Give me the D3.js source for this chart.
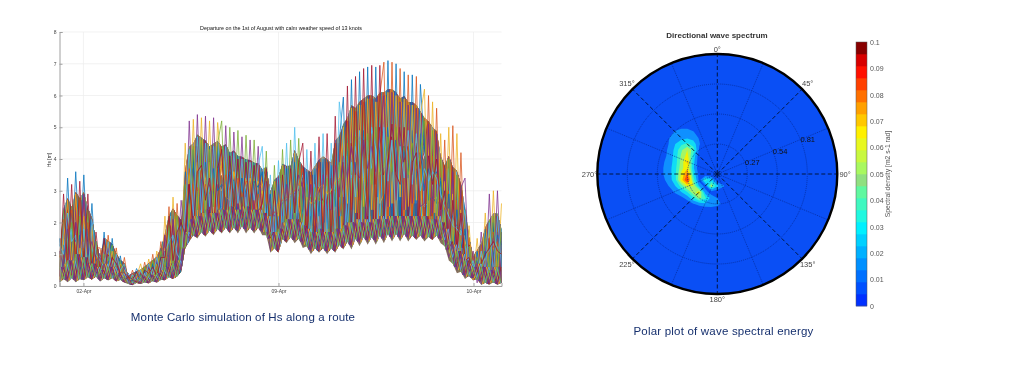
<!DOCTYPE html>
<html>
<head>
<meta charset="utf-8">
<script src="https://cdn.jsdelivr.net/npm/d3@7"></script>
<style>
  body { margin: 0; background: #fff; }
  svg { display: block; filter: blur(0.45px); }
  text { font-family: "Liberation Sans", Arial, sans-serif; }
</style>
</head>
<body>
<svg id="chart" width="1024" height="373"></svg>
<script>
// ---- left chart: Hs runs, one value per sample along the route
var hsRunBlue = [
  1.5,0.4,3.4,0.9,3.6,1.1,3.5,0.8,2.6,0.5,
  0.3,1.7,0.3,1.5,0.2,0.95,0.2,0.4,0.1,0.55,
  0.3,0.45,0.2,0.7,0.7,1.2,0.4,1.0,2.4,0.5,
  1.5,3.6,2.6,3.9,1.8,3.3,3.9,1.8,3.7,3.0,
  3.2,2.1,3.6,3.3,2.0,3.4,2.9,2.1,3.3,3.1,
  3.6,2.3,2.9,1.3,3.2,1.8,3.7,2.1,3.9,1.9,
  2.4,3.6,1.9,3.7,2.2,4.0,1.8,3.8,2.5,4.6,
  5.95,1.6,6.5,1.7,6.75,1.8,6.9,1.6,6.9,1.8,
  1.7,7.1,1.8,7.0,1.9,6.75,1.8,6.65,1.8,6.35,
  4.4,2.7,2.8,2.6,3.3,1.4,2.9,0.9,2.4,1.2,
  1.8,0.7,0.6,1.1,0.2,1.8,0.3,1.0,1.6,1.3
];
var hsRunOrange = [
  0.9,2.1,0.5,2.4,1.0,2.7,0.6,2.0,0.5,1.2,
  1.2,0.3,1.6,0.4,1.2,0.2,0.9,0.1,0.5,0.1,
  0.1,0.75,0.2,1.0,0.2,1.4,0.3,2.5,0.3,2.6,
  0.6,2.9,3.7,3.0,3.1,1.9,3.2,2.9,3.2,2.4,
  1.9,3.5,3.0,2.0,3.4,2.8,3.3,3.2,2.0,2.9,
  2.1,2.9,2.2,2.3,2.6,2.7,2.8,2.9,3.0,3.2,
  3.7,1.7,3.5,1.6,3.9,2.0,3.9,1.9,4.5,2.2,
  3.0,5.2,2.4,5.5,2.7,5.8,2.5,5.9,2.8,6.0,
  7.05,1.7,7.05,1.8,6.85,1.7,6.65,1.9,6.6,1.7,
  1.7,6.0,1.7,5.6,1.6,4.6,1.0,5.05,0.6,4.2,
  0.6,1.5,0.9,0.2,1.3,0.3,1.5,1.7,0.3,0.4
];
var hsRunYellow = [
  0.2,1.5,2.7,0.7,2.9,0.9,2.2,0.4,1.9,0.3,
  0.6,1.3,0.5,1.1,0.3,0.7,0.5,0.2,0.2,0.3,
  0.7,0.15,0.85,0.2,1.1,0.2,2.2,0.3,2.8,0.4,
  0.6,4.5,1.7,5.25,2.0,5.3,2.2,5.2,2.0,5.15,
  3.7,2.8,2.7,3.6,2.9,2.1,2.0,3.4,2.8,2.1,
  3.0,1.7,1.3,3.3,2.2,3.8,1.6,3.2,4.2,2.5,
  1.9,2.8,2.6,2.7,3.1,3.2,2.9,3.0,3.3,3.4,
  5.0,2.6,5.6,2.3,5.7,2.5,5.9,2.4,5.8,2.6,
  2.9,6.1,2.6,6.0,2.8,5.9,2.5,5.7,2.7,5.4,
  6.2,1.7,5.8,1.6,4.8,1.3,5.0,0.9,4.8,0.5,
  0.4,1.9,0.2,1.5,0.1,2.3,0.1,3.0,0.2,2.6
];
var hsRunPurple = [
  1.1,0.6,1.8,0.3,2.0,1.2,2.9,1.0,1.4,0.8,
  0.9,0.5,1.2,0.6,0.9,0.3,0.6,0.3,0.4,0.2,
  0.4,0.3,0.6,0.4,0.8,0.5,1.6,0.6,2.1,0.7,
  2.7,1.4,5.2,1.9,5.4,2.2,5.35,1.9,5.3,2.1,
  2.0,5.05,1.9,4.85,2.2,4.7,1.9,4.6,2.1,4.4,
  1.9,3.3,2.5,1.7,3.4,2.2,3.2,1.7,2.8,3.5,
  3.1,2.2,3.2,2.1,1.5,3.5,2.4,2.4,3.8,2.8,
  4.1,3.4,4.4,3.6,3.4,4.6,3.7,4.4,3.6,4.8,
  6.0,2.5,6.1,2.7,5.8,2.4,5.7,2.6,5.6,2.5,
  2.6,5.1,2.3,4.8,2.0,3.7,1.3,3.6,0.8,3.1,
  3.4,0.3,1.1,0.1,1.7,0.1,2.9,0.1,3.0,0.2
];
var hsRunGreen = [
  0.5,2.4,1.0,2.0,0.4,2.2,1.4,2.4,0.9,1.4,
  0.3,1.0,0.8,1.3,0.5,0.8,0.25,0.15,0.3,0.4,
  0.2,0.6,0.3,0.8,0.4,1.1,0.6,1.9,0.5,2.2,
  1.2,3.2,2.1,4.4,2.4,4.6,2.0,4.3,2.5,4.5,
  5.2,1.9,5.0,2.2,4.9,1.9,4.75,2.0,4.6,1.9,
  1.8,4.25,1.2,3.8,1.3,4.3,1.5,4.6,1.7,4.65,
  1.4,3.2,1.5,3.1,2.7,2.6,3.4,1.5,2.9,3.9,
  2.0,4.5,3.5,4.7,4.6,2.0,4.8,3.2,5.0,3.5,
  3.8,4.7,3.6,5.0,3.9,4.4,3.5,4.5,3.7,4.2,
  5.2,2.2,4.9,2.1,4.0,1.6,4.0,1.1,3.5,0.7,
  1.3,1.2,0.5,0.9,0.4,1.5,0.5,2.2,0.6,1.7
];
var hsRunCyan = [
  1.3,1.0,2.3,1.4,1.6,0.5,1.8,0.3,2.1,1.0,
  0.8,0.6,1.4,0.3,1.0,0.5,0.7,0.1,0.35,0.15,
  0.5,0.2,0.7,0.3,0.9,0.3,1.1,1.4,1.6,1.0,
  0.8,2.4,4.3,2.2,4.7,2.3,4.5,2.5,4.4,2.1,
  2.5,4.4,2.3,4.2,2.6,4.0,2.4,3.9,2.7,3.8,
  4.4,1.8,3.5,1.2,3.95,1.6,4.5,1.6,5.0,1.7,
  1.5,4.3,1.2,4.5,1.2,4.8,1.3,4.5,1.5,5.8,
  4.6,1.8,3.9,2.8,4.9,3.3,2.2,5.0,4.3,2.0,
  5.0,3.3,4.6,2.0,4.4,3.4,4.9,3.2,4.8,3.0,
  3.7,3.3,3.6,3.4,2.9,2.5,2.2,1.9,1.8,1.6,
  2.4,0.5,0.8,0.3,1.1,0.5,2.0,0.4,2.2,0.6
];
var hsRunMaroon = [
  0.3,2.9,0.6,3.2,0.5,3.3,0.7,2.9,0.4,1.7,
  0.5,1.5,0.4,0.9,0.7,0.4,0.4,0.3,0.2,0.45,
  0.15,0.5,0.4,0.6,0.3,0.9,0.9,2.2,0.8,1.7,
  2.0,1.6,3.2,1.8,3.6,3.8,2.7,3.4,1.9,3.7,
  4.3,2.2,4.1,2.5,4.0,2.3,3.9,2.4,3.8,2.3,
  2.6,3.7,1.4,3.0,1.6,3.5,2.0,3.7,2.3,3.9,
  4.5,1.3,4.25,1.2,4.7,1.3,4.8,1.2,5.35,1.5,
  1.5,6.3,1.6,6.6,1.7,6.85,1.7,6.95,1.8,6.95,
  2.1,3.9,5.1,3.5,3.2,5.0,2.0,3.9,4.2,2.0,
  1.9,4.1,3.2,4.0,2.4,3.0,1.1,2.7,1.2,2.3,
  0.8,0.9,0.35,0.6,0.7,1.0,1.2,1.4,1.1,1.0
];
// the calmest runs, these fill the lower part of the band
var hsRunCalmA = [
  .12,.7,.15,.8,.15,.9,.2,.7,.25,.6,
  .15,.7,.2,.6,.15,.4,.12,.12,.05,.2,
  .08,.3,.1,.35,.12,.5,.2,.7,.25,.8,
  .5,1.7,1.5,2.2,1.6,2.3,1.65,2.3,1.7,2.4,
  1.75,2.4,1.75,2.4,1.75,2.5,1.75,2.4,1.75,2.4,
  1.7,2.2,1.1,1.7,1.15,2.0,1.45,2.1,1.45,2.0,
  1.3,1.8,1.1,1.7,1.15,1.7,1.1,1.7,1.15,1.8,
  1.25,2.0,1.25,2.1,1.35,2.1,1.4,2.1,1.4,2.2,
  1.45,2.2,1.5,2.2,1.5,2.2,1.5,2.2,1.55,2.2,
  1.5,2.1,1.55,2.2,1.45,1.8,.9,1.3,.5,1.0,
  .3,.7,.25,.7,.05,.6,.1,.6,.05,.5
];
var hsRunCalmB = [
  .6,.2,.8,.2,1.0,.2,.9,.18,.7,.2,
  .5,.2,.6,.15,.4,.12,.3,.03,.15,.08,
  .3,.08,.35,.12,.4,.15,.6,.22,.7,.25,
  1.2,1.2,2.1,1.55,2.2,1.6,2.4,1.65,2.3,1.7,
  2.4,1.7,2.5,1.75,2.4,1.8,2.5,1.75,2.4,1.75,
  2.3,1.5,1.7,1.05,1.8,1.4,2.1,1.45,2.1,1.4,
  1.9,1.15,1.7,1.1,1.8,1.1,1.7,1.1,1.8,1.2,
  1.9,1.3,2.0,1.4,2.0,1.45,2.0,1.45,2.1,1.5,
  2.1,1.55,2.2,1.55,2.2,1.55,2.2,1.5,2.2,1.5,
  2.2,1.45,2.1,1.5,2.0,1.15,1.4,.6,1.1,.35,
  .8,.25,.6,.15,.6,.05,.5,.05,.6,.05
];
// toothed lower edge of the band
var hsLowerEdge = [
  .1,.22,.12,.25,.12,.22,.18,.28,.2,.3,
  .14,.25,.17,.25,.14,.2,.1,.06,.02,.1,
  .06,.12,.08,.16,.1,.2,.18,.28,.22,.3,
  .45,1.2,1.4,1.6,1.5,1.7,1.55,1.75,1.6,1.8,
  1.65,1.85,1.65,1.85,1.65,1.9,1.65,1.85,1.65,1.85,
  1.6,1.6,1.05,1.2,1.05,1.5,1.35,1.55,1.35,1.5,
  1.2,1.25,1.0,1.2,1.05,1.2,1.0,1.2,1.05,1.3,
  1.15,1.4,1.15,1.5,1.25,1.55,1.3,1.55,1.3,1.6,
  1.35,1.65,1.4,1.65,1.4,1.65,1.4,1.6,1.45,1.6,
  1.4,1.55,1.45,1.6,1.35,1.25,.8,.7,.4,.45,
  .22,.32,.17,.22,.04,.1,.04,.12,.04,.1
];
var hsRuns = [hsRunBlue, hsRunOrange, hsRunYellow, hsRunPurple, hsRunGreen, hsRunCyan, hsRunMaroon];
var hsCalmRuns = [hsRunCalmA, hsRunCalmB];
var hsRunColors = ["#0072BD", "#D95319", "#EDB120", "#7E2F8E", "#77AC30", "#4DBEEE", "#A2142F"];

var hsDateSamples = [5.9, 54, 102.1];
var hsDateLabels = ["02-Apr", "09-Apr", "10-Apr"];
var hsTicks = [0, 1, 2, 3, 4, 5, 6, 7, 8];

// redraw passes inside the band: sample shift and colour shift of each pass
var passOffsets = [0.5, 0.25, 0.75, 0.125, 0.625, 0.375, 0.875, 0];
var passColorShifts = [2, 4, 5, 1, 3, 6, 2, 0];

// ---- right chart: spectral density x 1000 on an east/north grid
var specEastStart = -0.594, specNorthStart = 0.486, specStep = 0.054;
var specRows = [
  [0,0,0,0,0,0,0,0,0,0,0,0,0,0,0],
  [0,0,0,0,3,6,6,2,0,0,0,0,0,0,0],
  [0,0,0,4,12,15,15,11,3,0,0,0,0,0,0],
  [0,0,0,10,15,17,19,16,9,0,0,0,0,0,0],
  [0,0,3,11,20,28,32,26,11,2,0,0,0,0,0],
  [0,0,5,13,23,38,50,35,8,0,0,0,0,0,0],
  [0,0,6,14,24,42,54,27,3,0,0,0,0,0,0],
  [0,1,9,15,25,44,62,24,2,0,0,0,0,0,0],
  [0,2,10,16,27,46,58,22,2,0,0,0,0,0,0],
  [0,2,10,16,28,52,72,28,5,0,0,0,0,0,0],
  [0,1,8,15,27,55,82,36,6,34,24,3,0,0,0],
  [0,0,3,11,20,34,52,50,18,6,46,22,12,0,0],
  [0,0,0,4,12,20,30,47,54,14,5,3,1,0,0],
  [0,0,0,0,2,7,14,28,44,32,16,10,2,0,0],
  [0,0,0,0,0,1,3,9,14,18,20,15,6,0,0],
  [0,0,0,0,0,0,0,0,0,0,0,0,0,0,0]
];
var specLevels = [10, 20, 30, 40, 50, 60, 70, 80];
var specLevelColors = ["#0f90ff", "#10dcf5", "#45f5c0", "#a5f565", "#f5f000", "#ffa500", "#ff5000", "#f01000"];
var radialTicks = [0.27, 0.54, 0.81, 1.08];
var compassMajor = [0, 45, 90, 135, 180, 225, 270, 315];
var compassMinor = [22.5, 67.5, 112.5, 157.5, 202.5, 247.5, 292.5, 337.5];

var barColors = ["#0030ff","#0050ff","#0070ff","#0090ff","#00b0ff","#00d0ff","#00f0ff","#20f8e0","#40f8c0","#60f8a0",
                 "#90e080","#a8f860","#c8f840","#e8f820","#fff000","#ffc800","#ffa000","#ff7000","#ff4000","#ff1000"];
var barTicks = [0, 0.01, 0.02, 0.03, 0.04, 0.05, 0.06, 0.07, 0.08, 0.09, 0.1];
var barTopColors = ["#d80000", "#880000"];

var svg = d3.select("#chart");

drawMonteCarlo();
drawPolar();
drawColorbar();

function drawMonteCarlo(){
    var xScale = d3.scaleLinear().domain([0, 109]).range([59.5, 501.5]),
        yScale = d3.scaleLinear().domain([0, 8]).range([286, 32]),
        g = svg.append("g");

    // grid
    g.selectAll(".gy").data(hsTicks).enter().append("line")
        .attr("x1", 59.5).attr("x2", 501.5)
        .attr("y1", d => yScale(d)).attr("y2", d => yScale(d))
        .attr("stroke", "#ececec").attr("stroke-width", 0.7);
    g.selectAll(".gx").data(hsDateSamples).enter().append("line")
        .attr("x1", d => xScale(d)).attr("x2", d => xScale(d))
        .attr("y1", 32).attr("y2", 286)
        .attr("stroke", "#ececec").attr("stroke-width", 0.7);

    // dense part of the band comes from the runs themselves, so its top stays jagged
    function bandTo(level){
        return d3.area()
            .x((d, i) => xScale(i))
            .y0((d, i) => yScale(hsLowerEdge[i]))
            .y1((d, i) => yScale(d3.quantile(hsRuns.map(r => r[i]).sort(d3.ascending), level)))(hsLowerEdge);
    }

    svg.append("clipPath").attr("id", "bandClip").append("path").attr("d", bandTo(0.85));

    function drawRuns(parent, runs, offset, colorShift, width, opacity){
        var lineAt = d3.line().x((d, i) => xScale(Math.min(i + offset, 109))).y(d => yScale(d));
        parent.selectAll(null).data(runs).enter().append("path")
            .attr("d", d => lineAt(d))
            .attr("fill", "none")
            .attr("stroke", (d, i) => hsRunColors[(i + colorShift) % hsRunColors.length])
            .attr("stroke-width", width)
            .attr("stroke-opacity", opacity)
            .attr("stroke-linejoin", "round");
    }

    // spikes over the band
    drawRuns(g, hsRuns, 0, 0, 0.9, 0.85);

    g.append("path").attr("d", bandTo(0.6)).attr("fill", "#86705e");
    var inner = g.append("g").attr("clip-path", "url(#bandClip)");
    passOffsets.forEach((o, p) => drawRuns(inner, hsRuns, o, passColorShifts[p], 0.8, 1));
    passOffsets.forEach((o, p) => drawRuns(inner, hsCalmRuns, o, passColorShifts[p] + 3, 0.8, 1));

    var xAxis = g.append("g").attr("transform", "translate(0,286)")
        .call(d3.axisBottom(xScale).tickValues(hsDateSamples)
            .tickFormat((d, i) => hsDateLabels[i]).tickSize(-3).tickPadding(3));
    var yAxis = g.append("g").attr("transform", "translate(59.5,0)")
        .call(d3.axisLeft(yScale).tickValues(hsTicks).tickSize(-3).tickPadding(3));

    [xAxis, yAxis].forEach(a => {
        a.selectAll("path").attr("stroke", "#a0a0a0").attr("stroke-width", 1);
        a.selectAll("line").attr("stroke", "#a0a0a0");
        a.selectAll("text").attr("fill", "#444").style("font-size", "5px");
    });

    g.append("text")
        .attr("transform", "translate(51,160) rotate(-90)")
        .attr("text-anchor", "middle")
        .attr("fill", "#333")
        .style("font-size", "5px")
        .text("Hs [m]");
    g.append("text")
        .attr("x", 281).attr("y", 30)
        .attr("text-anchor", "middle")
        .attr("fill", "#111")
        .style("font-size", "5.4px")
        .text("Departure on the 1st of August with calm weather speed of 13 knots");

    svg.append("text")
        .attr("x", 243).attr("y", 321)
        .attr("text-anchor", "middle")
        .attr("fill", "#16306e")
        .style("font-size", "11.5px")
        .style("letter-spacing", "0.15px")
        .text("Monte Carlo simulation of Hs along a route");
}

function drawPolar(){
    var cx = 717.3, cy = 174,
        rScale = d3.scaleLinear().domain([0, 1.08]).range([0, 120]),
        g = svg.append("g");

    g.append("circle").attr("cx", cx).attr("cy", cy).attr("r", rScale(1.08))
        .attr("fill", "#0a4ff5");

    // contour grid cell (gx,gy) -> east/north -> pixels
    var flat = d3.merge(specRows);
    var contours = d3.contours().size([specRows[0].length, specRows.length]).thresholds(specLevels)(flat);
    var project = d3.geoTransform({
        point: function(gx, gy){
            var east = specEastStart + (gx - 0.5) * specStep,
                north = specNorthStart - (gy - 0.5) * specStep;
            this.stream.point(cx + rScale(east), cy - rScale(north));
        }
    });
    g.selectAll(".level").data(contours).enter().append("path")
        .attr("class", "level")
        .attr("d", d3.geoPath(project))
        .attr("fill", (d, i) => specLevelColors[i]);

    function bearing(deg, r){
        var a = deg * Math.PI / 180;
        return [cx + rScale(r) * Math.sin(a), cy - rScale(r) * Math.cos(a)];
    }

    g.selectAll(".ring").data(radialTicks.slice(0, 3)).enter().append("circle")
        .attr("cx", cx).attr("cy", cy).attr("r", d => rScale(d))
        .attr("fill", "none").attr("stroke", "#04268f")
        .attr("stroke-width", 0.7).attr("stroke-dasharray", "1,1");
    g.selectAll(".spokeMinor").data(compassMinor).enter().append("line")
        .attr("x1", cx).attr("y1", cy)
        .attr("x2", d => bearing(d, 1.08)[0]).attr("y2", d => bearing(d, 1.08)[1])
        .attr("stroke", "#04268f").attr("stroke-width", 0.7).attr("stroke-dasharray", "1,1");
    g.selectAll(".spokeMajor").data(compassMajor).enter().append("line")
        .attr("x1", cx).attr("y1", cy)
        .attr("x2", d => bearing(d, 1.08)[0]).attr("y2", d => bearing(d, 1.08)[1])
        .attr("stroke", "#00102e").attr("stroke-width", 0.9).attr("stroke-dasharray", "4,2.5");

    g.append("circle").attr("cx", cx).attr("cy", cy).attr("r", rScale(1.08))
        .attr("fill", "none").attr("stroke", "#000").attr("stroke-width", 2.4);

    // direction labels sit just outside the rim
    g.selectAll(".dir").data(compassMajor).enter().append("text")
        .attr("x", d => bearing(d, 1.15)[0])
        .attr("y", d => bearing(d, d % 180 ? 1.15 : 1.125)[1] + 2.5)
        .attr("text-anchor", "middle")
        .attr("fill", "#444")
        .style("font-size", "7.5px")
        .text(d => d + "°");

    g.selectAll(".rad").data(radialTicks.slice(0, 3)).enter().append("text")
        .attr("x", d => bearing(67.5, d)[0])
        .attr("y", d => bearing(67.5, d)[1] + 2.5)
        .attr("fill", "#111")
        .style("font-size", "7.5px")
        .text(d => d);

    g.append("text")
        .attr("x", 717).attr("y", 38)
        .attr("text-anchor", "middle")
        .attr("fill", "#333")
        .style("font-size", "8px")
        .style("font-weight", "bold")
        .text("Directional wave spectrum");

    svg.append("text")
        .attr("x", 723.5).attr("y", 335)
        .attr("text-anchor", "middle")
        .attr("fill", "#16306e")
        .style("font-size", "11.5px")
        .style("letter-spacing", "0.2px")
        .text("Polar plot of wave spectral energy");
}

function drawColorbar(){
    var yScale = d3.scaleLinear().domain([0, 0.1]).range([306, 42]),
        g = svg.append("g"),
        colors = barColors.concat(barTopColors),
        step = 0.1 / colors.length;

    g.selectAll(".cell").data(colors).enter().append("rect")
        .attr("x", 856).attr("width", 11)
        .attr("y", (d, i) => yScale((i + 1) * step))
        .attr("height", (d, i) => yScale(i * step) - yScale((i + 1) * step) + 0.3)
        .attr("fill", d => d);
    g.append("rect").attr("x", 856).attr("y", 42).attr("width", 11).attr("height", 264)
        .attr("fill", "none").attr("stroke", "#555").attr("stroke-width", 0.5);

    var axis = g.append("g").attr("transform", "translate(867,0)")
        .call(d3.axisRight(yScale).tickValues(barTicks).tickFormat(d => d).tickSize(0).tickPadding(3));
    axis.select("path").remove();
    axis.selectAll("text").attr("fill", "#555").style("font-size", "7px");

    g.append("text")
        .attr("transform", "translate(890,174) rotate(-90)")
        .attr("text-anchor", "middle")
        .attr("fill", "#555")
        .style("font-size", "6.8px")
        .text("Spectral density [m2 s-1 rad]");
}
</script>
</body>
</html>
